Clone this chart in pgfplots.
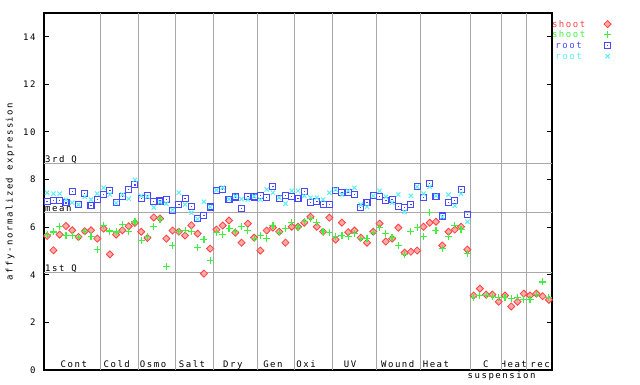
\documentclass[border=0pt]{standalone}
\usepackage{pgfplots}
\usepackage{pgfplotstable}
\pgfplotsset{compat=1.18}
\usepackage{fontspec}
\newfontfamily\pixfont{DejaVu Sans Mono}[LetterSpace=17]
\newcommand{\pf}{\pixfont\fontsize{9bp}{10bp}\selectfont}
\definecolor{cRed}{RGB}{255,64,64}
\definecolor{cGreen}{RGB}{64,240,64}
\definecolor{cBlue}{RGB}{72,72,255}
\definecolor{cCyan}{RGB}{90,240,240}
\definecolor{cGrid}{RGB}{168,168,168}
\pgfdeclareplotmark{sqdot}{%
  \pgfpathrectangle{\pgfpoint{-\pgfplotmarksize}{-\pgfplotmarksize}}{\pgfpoint{2\pgfplotmarksize}{2\pgfplotmarksize}}%
  \pgfusepathqstroke
  \pgfpathrectangle{\pgfpoint{-0.7bp}{-0.7bp}}{\pgfpoint{1.4bp}{1.4bp}}%
  \pgfusepathqfill}
\pgfplotstableread{
i r g b c
0 5.63 5.70 7.09 7.45
1 5.03 5.80 7.11 7.41
2 5.69 6.02 7.11 7.41
3 6.05 5.66 7.02 7.15
4 5.87 5.66 7.49 7.03
5 5.59 5.56 6.95 6.95
6 5.83 5.83 7.41 7.28
7 5.87 5.60 6.90 7.16
8 5.52 5.07 7.16 7.41
9 5.94 6.08 7.37 7.66
10 4.86 5.84 7.53 7.37
11 5.69 5.80 7.02 7.02
12 5.87 6.12 7.28 7.37
13 6.04 5.83 7.58 7.20
14 6.18 6.22 7.78 7.99
15 5.81 5.44 7.20 7.32
16 5.55 5.60 7.32 7.28
17 6.41 6.04 7.07 6.83
18 6.37 6.32 7.10 7.05
19 5.52 4.35 7.16 6.99
20 5.86 5.23 6.72 6.72
21 5.81 5.83 6.95 7.45
22 5.65 5.86 7.20 6.95
23 6.08 5.81 6.86 6.61
24 5.73 5.14 6.35 6.35
25 4.05 5.48 6.48 7.07
26 5.10 4.60 6.85 6.85
27 5.90 5.77 7.56 7.56
28 6.07 5.69 7.60 7.66
29 6.28 5.94 7.18 7.18
30 5.77 5.81 7.27 7.31
31 5.35 6.02 6.78 7.18
32 6.15 5.86 7.30 7.16
33 5.56 5.52 7.27 7.30
34 5.02 5.65 7.32 7.16
35 5.86 5.52 7.24 7.58
36 5.98 6.07 7.70 7.45
37 5.81 5.77 7.21 7.24
38 5.35 5.94 7.32 6.99
39 6.02 6.19 7.28 7.53
40 6.02 5.98 7.20 7.53
41 6.19 6.23 7.49 7.32
42 6.44 6.36 7.03 7.24
43 6.02 6.19 7.07 7.24
44 5.81 5.81 6.95 7.16
45 6.40 5.77 6.95 7.45
46 5.48 5.60 7.53 7.58
47 6.19 5.65 7.45 7.37
48 5.79 5.60 7.45 7.53
49 5.86 5.73 7.37 7.66
50 5.56 5.52 6.82 6.95
51 5.35 5.52 7.03 6.86
52 5.81 5.77 7.32 7.32
53 6.15 5.98 7.28 7.53
54 5.40 5.73 7.11 7.28
55 5.52 5.56 7.16 7.03
56 5.98 5.23 6.86 7.37
57 4.93 4.85 6.82 6.65
58 4.97 5.81 6.95 7.32
59 5.02 5.98 7.70 7.70
60 6.02 5.60 7.24 7.41
61 6.19 6.61 7.83 7.70
62 6.23 5.86 7.28 7.32
63 5.23 5.10 6.47 6.43
64 5.81 5.60 7.03 7.37
65 5.90 6.07 7.11 6.90
66 6.02 5.90 7.58 7.41
67 5.06 4.89 6.53 6.23
68 3.13 3.05 nan nan
69 3.42 3.13 nan nan
70 3.17 3.13 nan nan
71 3.17 3.09 nan nan
72 2.87 3.05 nan nan
73 3.13 3.05 nan nan
74 2.67 3.00 nan nan
75 2.87 3.05 nan nan
76 3.21 2.96 nan nan
77 3.13 2.96 nan nan
78 3.21 3.17 nan nan
79 3.10 3.70 nan nan
80 2.95 3.05 nan nan
}\data
\begin{document}
\begin{tikzpicture}[x=1bp,y=1bp]
\path[use as bounding box] (0,0) rectangle (640,384);
\begin{axis}[
  at={(44bp,14bp)}, anchor=south west, scale only axis,
  width=508bp, height=357bp,
  xmin=-0.5, xmax=80.5, ymin=0, ymax=15,
  clip mode=individual,
  axis line style={black, line width=1.2bp},
  ytick={0,2,...,14}, ytick pos=both, xtick pos=left,
  tick align=inside, major tick length=5bp,
  y tick style={black, line width=1bp},
  x tick style={draw=none},
  xtick={4.26,11.1,16.9,23.1,29.6,36.0,41.3,48.3,55.9,62.0,69.95,74.4,78.6},
  xticklabels={Cont,Cold,Osmo,Salt,Dry,Gen,Oxi,UV,Wound,Heat,C,Heat,rec},
  xticklabel style={font=\pf, anchor=base, yshift=3bp, inner sep=0pt},
  yticklabel style={font=\pf, xshift=-5bp},
  /pgf/number format/assume math mode=true,
  extra x ticks={8.5,14.5,20.5,26.5,33.5,39.5,45.5,52.5,59.5,67.5,72.5,76.5},
  extra x tick labels={},
  extra x tick style={grid=major, major grid style={cGrid, line width=1bp}, tick style={draw=none}},
  extra y ticks={4.096,6.612,8.667},
  extra y tick labels={},
  extra y tick style={grid=major, major grid style={cGrid, line width=1bp}, major tick length=0pt},
  ylabel={affy-normalized expression},
  every axis y label/.style={at={(axis description cs:0,0.5)}, xshift=-34bp, rotate=90, anchor=center, font=\pf},
  legend style={at={(1,0.98)}, anchor=north west, draw=none, fill=none, inner sep=0pt, outer sep=0pt,
    font=\pf, row sep=2.7bp, column sep=18.8bp,
    nodes={inner sep=0pt, text height=7bp, text depth=1bp}},
  legend plot pos=right, legend cell align=center,
  legend image code/.code={\draw[#1,only marks] plot coordinates {(0bp,0bp)};},
]
\addplot[only marks, mark=square*, mark size=2.5bp, mark options={rotate=45, draw=cRed, fill=cRed!45!white, line width=0.8bp}] table[x=i,y=r] {\data};
\addlegendentry{\textcolor{cRed}{shoot}}
\addplot[only marks, mark=+, mark size=3.5bp, mark options={draw=cGreen, line width=1.2bp}] table[x=i,y=g] {\data};
\addlegendentry{\textcolor{cGreen}{shoot}}
\addplot[only marks, mark=sqdot, mark size=3bp, mark options={draw=cBlue, fill=cBlue, line width=1.1bp}] table[x=i,y=b] {\data};
\addlegendentry{\textcolor{cBlue}{root}}
\addplot[only marks, mark=x, mark size=3bp, mark options={draw=cCyan, line width=1bp}] table[x=i,y=c] {\data};
\addlegendentry{\textcolor{cCyan}{root}}
\node[font=\pf, anchor=base west, inner sep=0pt] at (axis cs:-0.5,8.667) [xshift=1bp, yshift=1.5bp] {3rd Q};
\node[font=\pf, anchor=base west, inner sep=0pt] at (axis cs:-0.5,6.612) [xshift=1bp, yshift=1.5bp] {mean};
\node[font=\pf, anchor=base west, inner sep=0pt] at (axis cs:-0.5,4.096) [xshift=1bp, yshift=1.5bp] {1st Q};
\node[font=\pf, anchor=base, inner sep=0pt] at (axis cs:72.47,0) [yshift=-8.5bp] {suspension};
\end{axis}
\end{tikzpicture}
\end{document}
